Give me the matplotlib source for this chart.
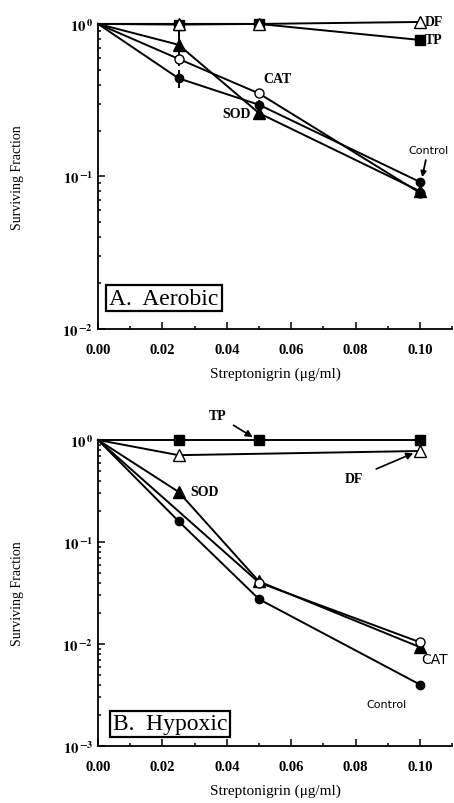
import matplotlib
matplotlib.use("Agg")
import matplotlib.pyplot as plt
import matplotlib.ticker as mticker
import numpy as np

plt.rcParams['font.family'] = ['Liberation Serif', 'DejaVu Serif']
plt.rcParams['font.weight'] = 'bold'
plt.rcParams['mathtext.fontset'] = 'stix'

dose = [0.0, 0.025, 0.05, 0.10]
dose_df_hyp = [0.0, 0.025, 0.10]
dose_cat_hyp = [0.0, 0.05, 0.10]

# A. Aerobic
aer_control = [1.0, 0.44, 0.295, 0.092]
aer_cat = [1.0, 0.59, 0.35, 0.078]
aer_sod = [1.0, 0.73, 0.26, 0.080]
aer_df = [1.0, 1.0, 1.0, 1.03]
aer_tp = [1.0, 0.99, 1.0, 0.785]
aer_control_err = [0.0, 0.06, 0.02, 0.006]
aer_sod_err = [0.0, 0.20, 0.02, 0.005]

# B. Hypoxic
hyp_control = [1.0, 0.16, 0.0275, 0.0040]
hyp_cat = [1.0, 0.040, 0.0104]
hyp_sod = [1.0, 0.31, 0.041, 0.0093]
hyp_df = [1.0, 0.71, 0.78]
hyp_tp = [1.0, 1.0, 1.0, 1.0]

fig = plt.figure(figsize=(4.54, 8.04), dpi=100)
ax1 = fig.add_axes([0.216, 0.5896, 0.78, 0.3794])
ax2 = fig.add_axes([0.216, 0.0709, 0.78, 0.3806])

# no marker on the shared starting point at dose 0
line_kw = dict(color='black', linewidth=1.4, clip_on=False, zorder=3, markevery=slice(1, None))


def dec_fmt(v, pos):
    e = int(round(np.log10(v)))
    return r'$\mathbf{10}^{\,\mathbf{%d}}$' % e


def style(ax, ymin, ymax):
    ax.set_yscale('log')
    ax.set_xlim(0, 0.11)
    ax.set_ylim(ymin, ymax)
    ax.spines['top'].set_visible(False)
    ax.spines['right'].set_visible(False)
    ax.spines['left'].set_linewidth(1.3)
    ax.spines['bottom'].set_linewidth(1.3)
    ax.xaxis.set_major_locator(mticker.MultipleLocator(0.02))
    ax.xaxis.set_minor_locator(mticker.MultipleLocator(0.01))
    ax.xaxis.set_major_formatter(mticker.FormatStrFormatter('%.2f'))
    ax.yaxis.set_major_locator(mticker.LogLocator(base=10))
    ax.yaxis.set_minor_locator(mticker.LogLocator(base=10, subs=np.arange(2, 10)))
    ax.yaxis.set_minor_formatter(mticker.NullFormatter())
    ax.yaxis.set_major_formatter(mticker.FuncFormatter(dec_fmt))
    ax.tick_params(which='both', direction='in', labelsize=10.5, width=1.1)
    ax.tick_params(which='major', length=5)
    ax.tick_params(which='minor', length=2.5)
    ax.tick_params(axis='x', pad=10)
    ax.set_xlabel('Streptonigrin (\u03bcg/ml)', fontsize=11, fontweight='normal', labelpad=8)
    ax.set_ylabel('Surviving Fraction', fontsize=10, labelpad=28)


style(ax1, 0.01, 1.0)
style(ax2, 0.001, 1.0)

# panel A
ax1.errorbar(dose, aer_control, yerr=aer_control_err, marker='o', ms=6, mfc='black', mec='black', **line_kw)
ax1.errorbar(dose, aer_sod, yerr=aer_sod_err, marker='^', ms=8, mfc='black', mec='black', **line_kw)
ax1.plot(dose, aer_cat, marker='o', ms=6.5, mfc='white', mec='black', **line_kw)
ax1.plot(dose, aer_tp, marker='s', ms=6.5, mfc='black', mec='black', **line_kw)
ax1.plot(dose, aer_df, marker='^', ms=8, mfc='white', mec='black', **line_kw)

ax1.text(0.1015, 1.04, 'DF', fontsize=10, va='center', ha='left')
ax1.text(0.1015, 0.785, 'TP', fontsize=10, va='center', ha='left')
ax1.text(0.0515, 0.44, 'CAT', fontsize=10, va='center', ha='left')
ax1.text(0.0385, 0.26, 'SOD', fontsize=10, va='center', ha='left')
ax1.annotate('Control', xy=(0.1005, 0.095), xytext=(0.1025, 0.15),
             fontsize=8, fontfamily='DejaVu Sans', fontweight='normal', ha='center', va='center',
             arrowprops=dict(arrowstyle='-|>', color='black', lw=1.3, shrinkA=2, shrinkB=2))
ax1.text(0.0035, 0.0136, 'A.  Aerobic', fontsize=17, fontweight='normal', va='bottom', ha='left',
         bbox=dict(boxstyle='square,pad=0.12', fc='white', ec='black', lw=1.6))

# panel B
ax2.plot(dose, hyp_tp, marker='s', ms=6.5, mfc='black', mec='black', **line_kw)
ax2.plot(dose_df_hyp, hyp_df, marker='^', ms=8, mfc='white', mec='black', **line_kw)
ax2.plot(dose, hyp_sod, marker='^', ms=8, mfc='black', mec='black', **line_kw)
ax2.plot(dose_cat_hyp, hyp_cat, marker='o', ms=6.5, mfc='white', mec='black', **line_kw)
ax2.plot(dose, hyp_control, marker='o', ms=6, mfc='black', mec='black', **line_kw)

ax2.annotate('TP', xy=(0.0495, 1.0), xytext=(0.037, 1.75),
             fontsize=10, ha='center', va='center', annotation_clip=False,
             arrowprops=dict(arrowstyle='-|>', color='black', lw=1.2, shrinkA=4, shrinkB=4))
ax2.annotate('DF', xy=(0.0995, 0.78), xytext=(0.0795, 0.42),
             fontsize=10, ha='center', va='center',
             arrowprops=dict(arrowstyle='-|>', color='black', lw=1.2, shrinkA=8, shrinkB=4))
ax2.text(0.0285, 0.31, 'SOD', fontsize=10, va='center', ha='left')
ax2.text(0.1005, 0.0072, 'CAT', fontsize=10, fontfamily='DejaVu Sans', fontweight='normal',
         va='center', ha='left', clip_on=False)
ax2.text(0.0895, 0.0026, 'Control', fontsize=8, fontfamily='DejaVu Sans', fontweight='normal',
         va='center', ha='center')
ax2.text(0.0045, 0.00130, 'B.  Hypoxic', fontsize=17, fontweight='normal', va='bottom', ha='left',
         bbox=dict(boxstyle='square,pad=0.12', fc='white', ec='black', lw=1.6))

fig.savefig('out.png', dpi=100)
